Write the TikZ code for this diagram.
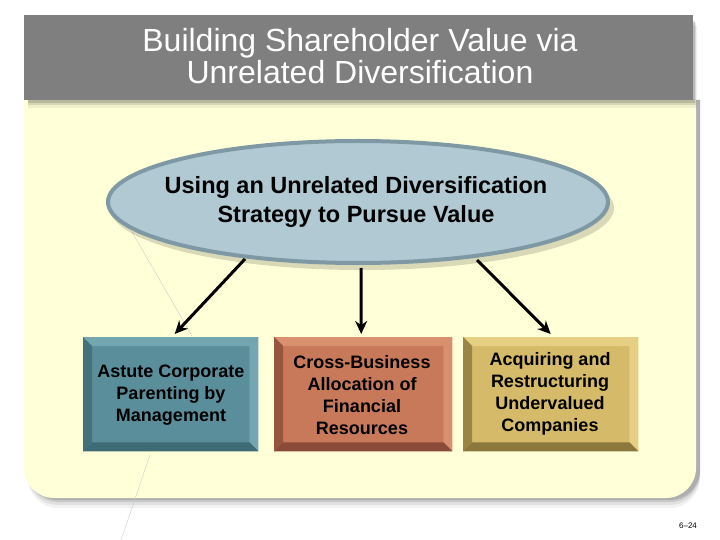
\documentclass[tikz,border=0pt]{standalone}
\usepackage{fontspec}
\setmainfont{Liberation Sans}
\usetikzlibrary{calc,arrows.meta,shapes.geometric}
\definecolor{titlegray}{HTML}{7F7F7F}
\definecolor{cream}{HTML}{FFFFD8}
\definecolor{ellfill}{HTML}{B0C9D3}
\definecolor{ellline}{HTML}{7E99A4}
\definecolor{tealbase}{HTML}{5A8E9A}
\definecolor{teallight}{HTML}{74A6B1}
\definecolor{tealdark}{HTML}{3E6B75}
\definecolor{rustbase}{HTML}{C7795A}
\definecolor{rustlight}{HTML}{D8906F}
\definecolor{rustdark}{HTML}{8A4C38}
\definecolor{goldbase}{HTML}{D5BB69}
\definecolor{goldlight}{HTML}{E6CF82}
\definecolor{golddark}{HTML}{8C773C}
\tikzset{
  boxtext/.style={align=center,font=\fontsize{18}{22}\selectfont\bfseries,text=black,inner sep=0pt,minimum width=175pt,minimum height=114pt},
  flowarrow/.style={-{Stealth[length=13pt,width=12pt]},line width=3pt,black},
}
\newcommand{\bevelbox}[4]{% name, base, light, dark
  \fill[#2] (#1.north west) rectangle (#1.south east);
  \fill[#3] (#1.north west) -- (#1.north east) -- ($(#1.north east)+(-9,9)$) -- ($(#1.north west)+(9,9)$) -- cycle;
  \fill[#3] (#1.north east) -- (#1.south east) -- ($(#1.south east)+(-9,-9)$) -- ($(#1.north east)+(-9,9)$) -- cycle;
  \fill[#4] (#1.south west) -- (#1.south east) -- ($(#1.south east)+(-9,-9)$) -- ($(#1.south west)+(9,-9)$) -- cycle;
  \fill[#4!80!#2] (#1.north west) -- (#1.south west) -- ($(#1.south west)+(9,-9)$) -- ($(#1.north west)+(9,9)$) -- cycle;
}
\begin{document}
\begin{tikzpicture}[x=1pt,y=-1pt]
\useasboundingbox (0,0) rectangle (720,540);
\fill[white] (0,0) rectangle (720,540);
% panel shadow
\foreach \o/\op in {10/0.05,7/0.07,4/0.1,2/0.13}{
  \fill[black,opacity=\op] (28,300) -- (28,100) -- (700,100) -- (700,300) [rounded corners=30pt] -- (700,{498+\o}) -- (28,{498+\o}) -- cycle;
}
% cream panel
\fill[cream] (24,300) -- (24,100) -- (696,100) -- (696,300) [rounded corners=30pt] -- (696,498) -- (24,498) -- cycle;
% title shadow
\foreach \o/\op in {8/0.06,5/0.1,3/0.14}{
  \fill[black,opacity=\op] (28,{18+\o}) rectangle ({693+\o/2},{100+\o});
}
\node[fill=titlegray,minimum width=669pt,minimum height=85pt,inner sep=0pt,anchor=north west] (title) at (24,15) {};
\node[text=white,align=center,font=\fontsize{32}{32}\selectfont] (titletext) at (360,56) {Building Shareholder Value via\\Unrelated Diversification};
% faint lines
\draw[gray!40,line width=0.4pt] (132,232) -- (192,336);
\draw[gray!40,line width=0.4pt] (150,455) -- (121,540);
% ellipse
\fill[black,opacity=0.15] (362,208) ellipse[x radius=252,y radius=62];
\node[ellipse,fill=ellfill,draw=ellline,line width=4pt,minimum width=500pt,minimum height=122pt,inner sep=0pt] (ell) at (358,202) {};
\node[align=center,font=\fontsize{23.5}{29}\selectfont\bfseries] (elltext) at (356,202) {Using an Unrelated Diversification\\Strategy to Pursue Value};
% boxes
\node[boxtext,anchor=north west] (b1) at (83,337) {};
\node[boxtext,anchor=north west,minimum width=178pt] (b2) at (274,337) {};
\node[boxtext,anchor=north west] (b3) at (463,337) {};
\bevelbox{b1}{tealbase}{teallight}{tealdark}
\bevelbox{b2}{rustbase}{rustlight}{rustdark}
\bevelbox{b3}{goldbase}{goldlight}{golddark}
\node[boxtext,minimum width=0pt,minimum height=0pt] (t1) at (171,395) {Astute Corporate\\Parenting by\\Management};
\node[boxtext,minimum width=0pt,minimum height=0pt] (t2) at (362,395) {Cross-Business\\Allocation of\\Financial\\Resources};
\node[boxtext,minimum width=0pt,minimum height=0pt] (t3) at (550,394) {Acquiring and\\Restructuring\\Undervalued\\Companies};
% arrows
\coordinate (a1) at (245,259);
\coordinate (a2) at (361,268);
\coordinate (a3) at (477,260);
\draw[flowarrow] (a1) -- ($(b1.north)+(4,-3)$);
\draw[flowarrow] (a2) -- ($(b2.north)+(-2,-3)$);
\draw[flowarrow] (a3) -- ($(b3.north)+(0,-3)$);
% page number
\node[font=\fontsize{8}{9}\selectfont] (pg) at (688,526) {6--24};
\end{tikzpicture}
\end{document}
